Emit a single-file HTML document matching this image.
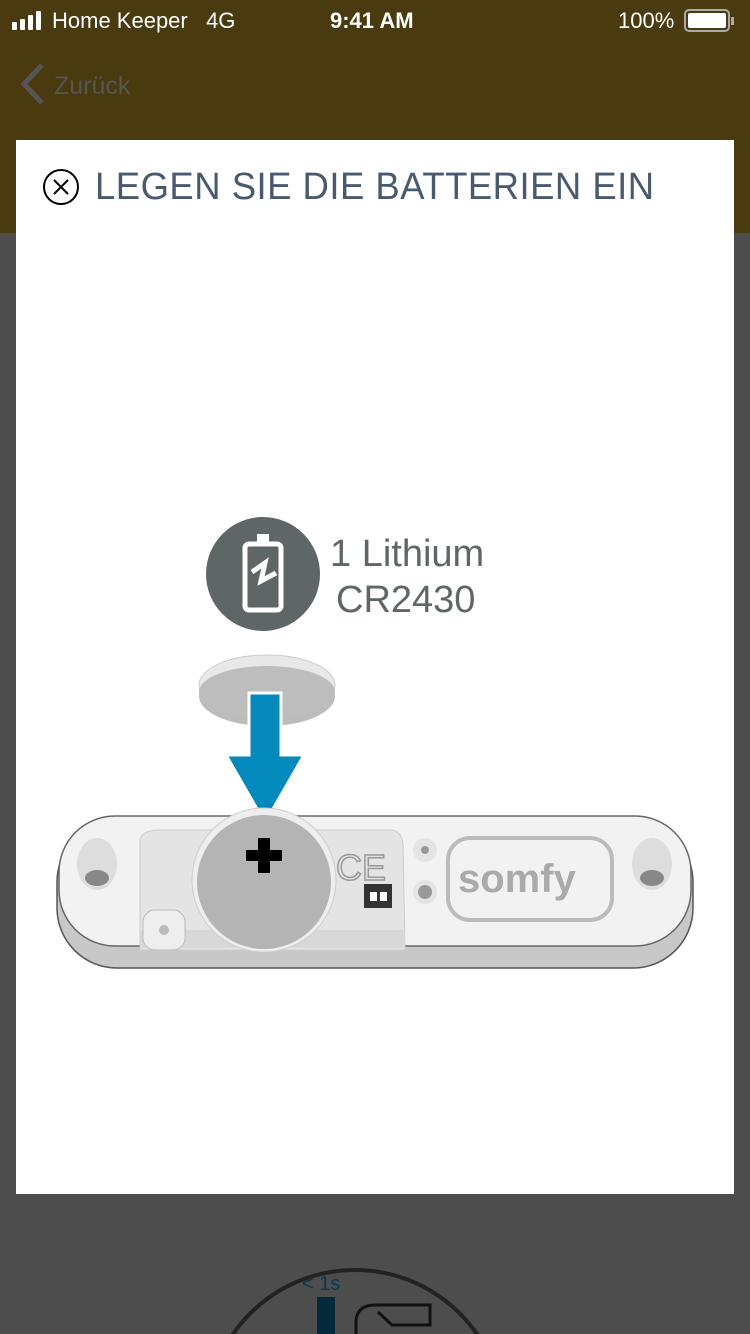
<!DOCTYPE html>
<html style="overflow:hidden;width:750px;height:1334px"><head><meta charset="utf-8"><style>
body{margin:0;width:750px;height:1334px;overflow:hidden;background:#4d4d4d;font-family:"Liberation Sans",sans-serif;position:relative}
.top{position:absolute;left:0;top:0;width:750px;height:233px;background:#4a3a10}
.t{position:absolute;color:#fff;font-size:22px}
.card{position:absolute;left:16px;top:140px;width:718px;height:1054px;background:#fff}
</style></head><body>
<div class="top"></div>
<svg style="position:absolute;left:10px;top:10px" width="40" height="22"><rect x="2" y="12" width="5" height="8" rx="1" fill="#fff"/><rect x="10" y="9" width="5" height="11" rx="1" fill="#fff"/><rect x="18" y="5" width="5" height="15" rx="1" fill="#fff"/><rect x="26" y="1" width="5" height="19" rx="1" fill="#fff"/></svg>
<div class="t" style="left:52px;top:8px">Home Keeper&nbsp;&nbsp;&nbsp;4G</div>
<div class="t" style="left:330px;top:8px;font-weight:bold">9:41 AM</div>
<div class="t" style="left:618px;top:8px">100%</div>
<svg style="position:absolute;left:684px;top:8px" width="52" height="26"><rect x="1" y="2" width="44" height="21" rx="4" fill="none" stroke="#aaa" stroke-width="2"/><rect x="4" y="5" width="38" height="15" rx="2" fill="#fff"/><rect x="47" y="9" width="3" height="8" fill="#aaa"/></svg>
<svg style="position:absolute;left:14px;top:62px" width="34" height="44"><path d="M28 3 L10 22 L28 41" fill="none" stroke="#555" stroke-width="5"/></svg>
<div style="position:absolute;left:54px;top:72px;font-size:25px;color:#555">Zurück</div>
<div class="card"></div>
<svg style="position:absolute;left:42px;top:168px" width="40" height="40"><circle cx="19" cy="19" r="17" fill="none" stroke="#000" stroke-width="2"/><path d="M12 12L26 26M26 12L12 26" stroke="#000" stroke-width="2"/></svg>
<div style="position:absolute;left:95px;top:166px;font-size:38px;color:#4a5a6e;letter-spacing:0.5px;transform:scaleX(0.96);transform-origin:left;white-space:nowrap">LEGEN SIE DIE BATTERIEN EIN</div>
<div style="position:absolute;left:0;top:0;width:750px;height:1334px;overflow:hidden">
<svg style="position:absolute;left:0;top:0" width="750" height="1334">
<circle cx="263" cy="574" r="57" fill="#5f6668"/>
<rect x="245" y="544" width="36" height="66" rx="4" fill="none" stroke="#fff" stroke-width="5"/>
<rect x="257" y="534" width="12" height="8" fill="#fff"/>
<path d="M252 572 L265 563 L261 581 L276 573" fill="none" stroke="#fff" stroke-width="5"/>
<text x="330" y="566" font-size="38" fill="#5f6668">1 Lithium</text>
<text x="336" y="612" font-size="38" fill="#5f6668">CR2430</text>
<ellipse cx="267" cy="696" rx="68" ry="30" fill="#bcbcbc"/>
<ellipse cx="267" cy="685" rx="68" ry="30" fill="#e8e8e8" stroke="#ccc"/>
<ellipse cx="267" cy="692" rx="68" ry="26" fill="#bdbdbd"/>
<path d="M249 693 H281 V755 H304 L265 823 L226 755 H249Z" fill="#0389bb" stroke="#fff" stroke-width="3"/>
<rect x="57" y="822" width="636" height="146" rx="60" fill="#c8c8c8" stroke="#555" stroke-width="1.5"/>
<rect x="59" y="816" width="632" height="130" rx="56" fill="#f2f2f2" stroke="#666" stroke-width="1.5"/>
<path d="M140 950 V840 Q142 830 160 830 H390 Q402 830 403 845 L405 950Z" fill="#e4e4e4" stroke="#ccc"/>
<rect x="140" y="930" width="265" height="18" fill="#d8d8d8"/>
<circle cx="264" cy="880" r="72" fill="#eee" stroke="#ccc"/>
<circle cx="264" cy="882" r="67" fill="#b4b4b4"/>
<path d="M258 838h12v12h12v11h-12v12h-12v-12h-12v-11h12z" fill="#000"/>
<rect x="143" y="910" width="42" height="40" rx="12" fill="#eee" stroke="#bbb"/>
<circle cx="164" cy="930" r="5" fill="#bbb"/>
<text x="336" y="880" font-size="36" fill="none" stroke="#999" stroke-width="1.5">CE</text>
<rect x="364" y="884" width="28" height="24" fill="#333"/>
<rect x="370" y="892" width="7" height="9" fill="#fff"/><rect x="380" y="892" width="7" height="9" fill="#fff"/>
<circle cx="425" cy="850" r="12" fill="#e4e4e4"/><circle cx="425" cy="850" r="4" fill="#999"/>
<circle cx="425" cy="892" r="12" fill="#e4e4e4"/><circle cx="425" cy="892" r="7" fill="#999"/>
<rect x="448" y="838" width="164" height="82" rx="22" fill="none" stroke="#bbb" stroke-width="4"/>
<text x="458" y="892" font-size="40" font-weight="bold" fill="#aaa">somfy</text>
<ellipse cx="97" cy="864" rx="20" ry="26" fill="#ddd"/><ellipse cx="97" cy="878" rx="12" ry="8" fill="#888"/>
<ellipse cx="652" cy="864" rx="20" ry="26" fill="#ddd"/><ellipse cx="652" cy="878" rx="12" ry="8" fill="#888"/>
<circle cx="355" cy="1418" r="148" fill="none" stroke="#222" stroke-width="4"/>
<text x="302" y="1290" font-size="20" fill="#053a50">&lt; 1s</text>
<rect x="317" y="1297" width="18" height="37" fill="#022a3a"/>
<path d="M356 1334 V1320 Q358 1305 375 1305 H430 V1325 H392 L378 1312" fill="none" stroke="#111" stroke-width="3"/>
</svg>
</div>
</body></html>
